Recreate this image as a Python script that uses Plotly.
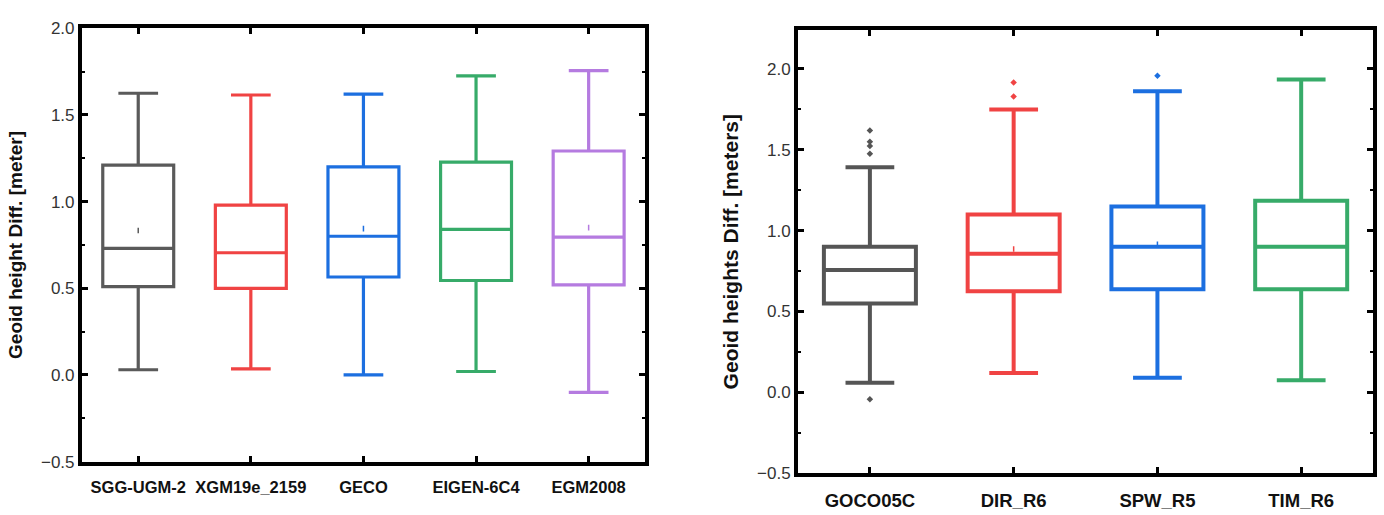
import plotly.graph_objects as go

# ---- Left panel: global geopotential models ----
left_models = ["SGG-UGM-2", "XGM19e_2159", "GECO", "EIGEN-6C4", "EGM2008"]
left_colors = ["#5a5a5a", "#f04343", "#1c6fe0", "#37ab69", "#b57be0"]
left_lower = [0.03, 0.035, 0.0, 0.02, -0.10]
left_q1 = [0.51, 0.50, 0.565, 0.545, 0.52]
left_median = [0.73, 0.705, 0.80, 0.84, 0.795]
left_q3 = [1.21, 0.98, 1.20, 1.228, 1.292]
left_upper = [1.625, 1.615, 1.62, 1.725, 1.755]
left_mean_models = ["SGG-UGM-2", "GECO", "EGM2008"]
left_mean_values = [0.833, 0.844, 0.85]

# ---- Right panel: GOCE-based models ----
right_models = ["GOCO05C", "DIR_R6", "SPW_R5", "TIM_R6"]
right_colors = ["#555555", "#f04343", "#1c6fe0", "#37ab69"]
right_lower = [0.06, 0.12, 0.09, 0.075]
right_q1 = [0.55, 0.625, 0.637, 0.637]
right_median = [0.757, 0.857, 0.90, 0.90]
right_q3 = [0.90, 1.10, 1.15, 1.185]
right_upper = [1.393, 1.75, 1.863, 1.935]
right_mean_models = ["DIR_R6", "SPW_R5"]
right_mean_values = [0.887, 0.915]
outlier_models = ["GOCO05C", "GOCO05C", "GOCO05C", "GOCO05C", "GOCO05C",
                  "DIR_R6", "DIR_R6", "SPW_R5"]
outlier_values = [1.62, 1.55, 1.524, 1.476, -0.042, 1.917, 1.83, 1.958]

fig = go.Figure()


def add_boxes(models, colors, lo, q1, med, q3, hi, xa, ya, lw, bw, ww):
    for m, c, a, b, d, e, f in zip(models, colors, lo, q1, med, q3, hi):
        fig.add_trace(go.Box(
            x=[m], lowerfence=[a], q1=[b], median=[d], q3=[e], upperfence=[f],
            boxpoints=False, width=bw, whiskerwidth=ww,
            line=dict(color=c, width=lw), fillcolor="rgba(0,0,0,0)",
            xaxis=xa, yaxis=ya, showlegend=False, hoverinfo="skip",
        ))


add_boxes(left_models, left_colors, left_lower, left_q1, left_median, left_q3,
          left_upper, "x", "y", 3.2, 0.63, 0.56)
add_boxes(right_models, right_colors, right_lower, right_q1, right_median,
          right_q3, right_upper, "x2", "y2", 4, 0.64, 0.53)

lcol = dict(zip(left_models, left_colors))
rcol = dict(zip(right_models, right_colors))

# mean markers
fig.add_trace(go.Scatter(
    x=left_mean_models, y=left_mean_values, mode="markers",
    marker=dict(symbol="line-ns", size=4,
                line=dict(width=1.5, color=[lcol[m] for m in left_mean_models])),
    xaxis="x", yaxis="y", showlegend=False, hoverinfo="skip"))
fig.add_trace(go.Scatter(
    x=right_mean_models, y=right_mean_values, mode="markers",
    marker=dict(symbol="line-ns", size=4,
                line=dict(width=1.5, color=[rcol[m] for m in right_mean_models])),
    xaxis="x2", yaxis="y2", showlegend=False, hoverinfo="skip"))

# outliers
fig.add_trace(go.Scatter(
    x=outlier_models, y=outlier_values, mode="markers",
    marker=dict(symbol="diamond", size=5,
                color=[rcol[m] for m in outlier_models]),
    xaxis="x2", yaxis="y2", showlegend=False, hoverinfo="skip"))

FONT = "Liberation Sans, Arial, sans-serif"
tickfont = dict(family=FONT, size=17, color="#333333")


def cat_font(size):
    return dict(family=FONT, size=size, color="#111111")


def title_font(size):
    return dict(family=FONT, size=size, color="#111111")


common_x = dict(
    type="category", showline=True, linecolor="black", linewidth=4,
    mirror="ticks", ticks="inside", ticklen=6, tickwidth=3, tickcolor="black",
    showgrid=False, zeroline=False, ticklabelstandoff=8,
)
common_y = dict(
    showline=True, linecolor="black", linewidth=4, mirror="ticks",
    ticks="inside", ticklen=6, tickwidth=3, tickcolor="black",
    showgrid=False, zeroline=False, dtick=0.5, tick0=0, tickformat=".1f",
    tickfont=tickfont,
    minor=dict(ticks="inside", ticklen=3, tickwidth=2, tickcolor="black",
               dtick=0.25, tick0=0, showgrid=False),
)

fig.update_layout(
    width=1384, height=515,
    margin=dict(l=0, r=0, t=0, b=0),
    paper_bgcolor="white", plot_bgcolor="white",
    xaxis=dict(common_x, domain=[0.0592, 0.4660], anchor="y",
               categoryorder="array", categoryarray=left_models,
               range=[-0.5, 4.5], tickfont=cat_font(16.5)),
    yaxis=dict(common_y, domain=[0.0874, 0.9612], anchor="x",
               range=[-0.5, 2.0],
               title=dict(text="<b>Geoid height Diff. [meter]</b>",
                          font=title_font(19), standoff=14)),
    xaxis2=dict(common_x, domain=[0.5766, 0.9921], anchor="y2",
                categoryorder="array", categoryarray=right_models,
                range=[-0.5, 3.5], tickfont=cat_font(18.5)),
    yaxis2=dict(common_y, domain=[0.0641, 0.9573], anchor="x2",
                range=[-0.5, 2.24],
                title=dict(text="<b>Geoid heights Diff. [meters]</b>",
                           font=title_font(21), standoff=14)),
)
fig.update_xaxes(tickprefix="<b>", ticksuffix="</b>")

fig.write_html("out.html")
